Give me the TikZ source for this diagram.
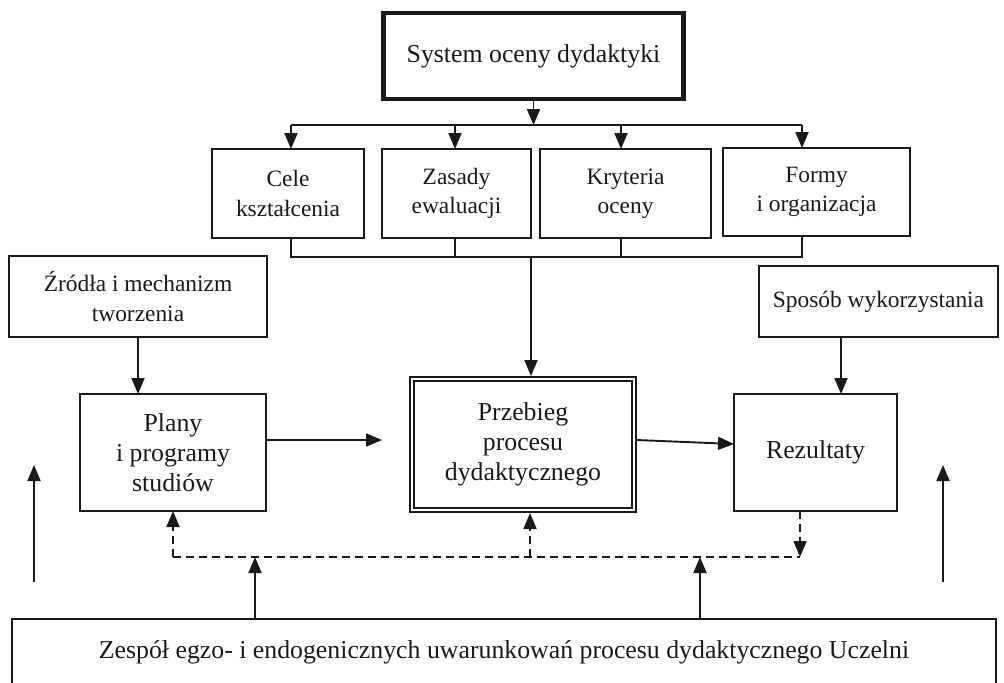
\documentclass[tikz,border=0pt]{standalone}
\usepackage{fontspec}
\setmainfont{Liberation Serif}
\usetikzlibrary{arrows.meta,calc}
\begin{document}
\begin{tikzpicture}[x=0.5pt,y=-0.5pt,
  ln/.style={line width=0.95pt,draw=black!90},
  arr/.style={ln,-{Triangle[length=8pt,width=6.5pt]}},
  dsh/.style={dash pattern=on 4pt off 2.5pt},
  bx/.style={draw=black!90,line width=0.95pt,align=center,inner sep=0pt,outer sep=0pt,
    text=black!90,font=\fontsize{11.7pt}{14.6pt}\selectfont},
  bigtext/.style={font=\fontsize{12.9pt}{15pt}\selectfont}]
\useasboundingbox (0,0) rectangle (1004,682);
\clip (0,0) rectangle (1004,682);

% nodes
\node[bx,bigtext,line width=2.4pt,minimum width=150pt,minimum height=43pt] (sys) at (533.5,56) {System oceny dydaktyki};
\node[bx,minimum width=76pt,minimum height=44.5pt] (cele) at (288,193.5) {Cele\\kształcenia};
\node[bx,minimum width=74.5pt,minimum height=44.5pt] (zas) at (456.5,193.5) {Zasady\\ewaluacji};
\node[bx,minimum width=85.5pt,minimum height=44.5pt] (kry) at (625.5,193.5) {Kryteria\\oceny};
\node[bx,minimum width=93.5pt,minimum height=44pt] (formy) at (816.5,192) {Formy\\i organizacja};
\node[bx,minimum width=129pt,minimum height=40.5pt] (zr) at (138,296.5) {Źródła i mechanizm\\tworzenia};
\node[bx,minimum width=119.5pt,minimum height=35.5pt] (spos) at (878.5,301.5) {Sposób wykorzystania};
\node[bx,bigtext,minimum width=93pt,minimum height=58.5pt] (plany) at (173,452.5) {Plany\\i programy\\studiów};
\node[bx,bigtext,line width=1pt,double,double distance=1.1pt,minimum width=111pt,minimum height=65.5pt] (przeb) at (523,444.5) {Przebieg\\procesu\\dydaktycznego};
\node[bx,bigtext,minimum width=81.5pt,minimum height=58.5pt] (rez) at (815.5,452.5) {Rezultaty};
\node[bx,bigtext,minimum width=492pt,minimum height=33pt] (bot) at (504,652) {Zespół egzo- i endogenicznych uwarunkowań procesu dydaktycznego Uczelni};

% coordinates
\coordinate (tl) at (291,125);
\coordinate (t1) at (455,125);
\coordinate (t2) at (621,125);
\coordinate (tr) at (802,125);
\coordinate (bl) at (291,257);
\coordinate (b1) at (455,257);
\coordinate (bc) at (531,257);
\coordinate (b2) at (621,257);
\coordinate (br) at (802,257);
\coordinate (sa) at (841,337);
\coordinate (pe) at (382,440);
\coordinate (re) at (734,444);
\coordinate (la0) at (34,582);
\coordinate (la1) at (34,465);
\coordinate (ra0) at (943,582);
\coordinate (ra1) at (943,465);
\coordinate (d1) at (173,557);
\coordinate (d2) at (530,557);
\coordinate (d3) at (800,557);
\coordinate (u1) at (255,557);
\coordinate (u2) at (700,557);

% top distribution
\draw[arr] (sys.south) -- (sys.south |- tl);
\draw[ln] (tl) -- (tr);
\draw[arr] (tl) -- (cele.north -| tl);
\draw[arr] (t1) -- (zas.north -| t1);
\draw[arr] (t2) -- (kry.north -| t2);
\draw[arr] (tr) -- (formy.north -| tr);

% bottom collection
\draw[ln] (cele.south -| bl) -- (bl) -- (br) -- (formy.south -| br);
\draw[ln] (zas.south -| b1) -- (b1);
\draw[ln] (kry.south -| b2) -- (b2);
\draw[arr,shorten >=1.5pt] (bc) -- (przeb.north -| bc);

% side inputs
\draw[arr] (zr.south) -- (plany.north -| zr.south);
\draw[arr] (spos.south -| sa) -- (rez.north -| sa);

% main flow
\draw[arr] (plany.east |- pe) -- (pe);
\draw[arr] ([xshift=1.5pt]przeb.east |- pe) -- (re);

% free vertical arrows
\draw[arr] (la0) -- (la1);
\draw[arr] (ra0) -- (ra1);

% dashed feedback
\draw[ln,dsh] (d1) -- (d3);
\draw[arr,dsh] (d1) -- (plany.south -| d1);
\draw[arr,dsh,shorten >=1.5pt] (d2) -- (przeb.south -| d2);
\draw[arr,dsh] (rez.south -| d3) -- (d3);

% from bottom box
\draw[arr] (bot.north -| u1) -- (u1);
\draw[arr] (bot.north -| u2) -- (u2);
\end{tikzpicture}
\end{document}
